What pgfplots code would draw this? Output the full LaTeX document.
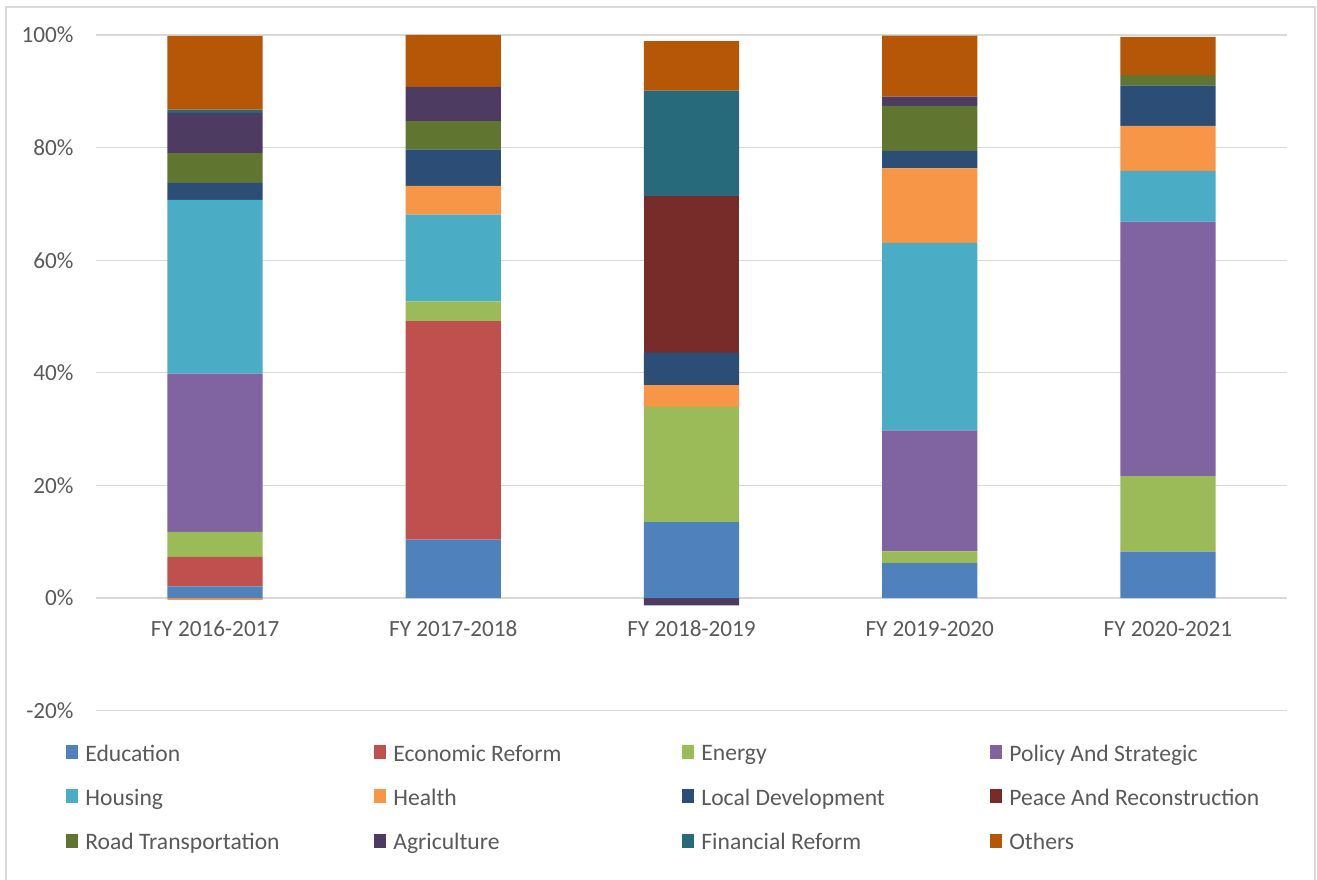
\documentclass[border=0pt]{standalone}
\usepackage{fontspec}
\setmainfont{Carlito}
\usepackage{pgfplots}
\usepackage{pgfplotstable}
\pgfplotsset{compat=1.18}
\definecolor{cEdu}{HTML}{4F81BD}
\definecolor{cEco}{HTML}{C0504D}
\definecolor{cEne}{HTML}{9BBB59}
\definecolor{cPol}{HTML}{8064A2}
\definecolor{cHou}{HTML}{4BACC6}
\definecolor{cHea}{HTML}{F79646}
\definecolor{cLD}{HTML}{2C4D75}
\definecolor{cPea}{HTML}{772C2A}
\definecolor{cRoa}{HTML}{5F7530}
\definecolor{cAgr}{HTML}{4D3B62}
\definecolor{cFin}{HTML}{276A7C}
\definecolor{cOth}{HTML}{B65708}
\definecolor{gridc}{HTML}{D9D9D9}
\definecolor{txtc}{HTML}{595959}

\pgfplotstableread{
x Edu  Eco  Ene   Pol  Hou   Hea  LD   Pea  Roa  Agr  Fin  Oth
0 2.1  5.2  4.45  28.1 30.85 -0.3 3.05 0    5.25 7.15 0.6  13.1
1 10.4 38.8 3.5   0    15.4  5.1  6.5  0    5.0  6.1  0    9.2
2 13.5 0    20.45 0    0     3.85 5.8  27.8 0    -1.3 18.7 8.8
3 6.2  0    2.1   21.5 33.3  13.2 3.1  0    8.0  1.65 0    10.85
4 8.27 0    13.4  45.2 9.0   8.0  7.2  0    1.8  0    0    6.8
}\data

\newcommand{\LE}[1]{\makebox[141pt][l]{#1}}
\newcommand{\cfont}{\fontsize{11.6}{13.9}\selectfont}
\newcommand{\lfont}{\fontsize{11.8}{14.1}\selectfont}

\begin{document}
\begin{tikzpicture}
\useasboundingbox (0,0) rectangle (658.5pt,439.5pt);
\draw[gridc, line width=0.6pt] (3pt,-1pt) -- (3pt,436pt) -- (657.5pt,436pt) -- (657.5pt,-1pt);
\begin{axis}[
  at={(48pt,84.15pt)}, anchor=south west,
  scale only axis, width=595.5pt, height=337.85pt,
  xmin=-0.5, xmax=4.5, ymin=-20, ymax=100,
  ybar stacked, stack negative=separate, bar width=0.4,
  ytick={-20,0,20,40,60,80,100},
  yticklabels={-20\%,0\%,20\%,40\%,60\%,80\%,100\%},
  xtick={0,1,2,3,4},
  xticklabels={FY 2016-2017,FY 2017-2018,FY 2018-2019,FY 2019-2020,FY 2020-2021},
  ymajorgrids, grid style={color=gridc, line width=0.6pt},
  axis line style={draw=none}, major tick length=0pt,
  tick label style={font=\cfont, text=txtc},
  yticklabel style={xshift=-7.7pt},
  xticklabel style={anchor=base, yshift=37.35pt},
  legend columns=4,
  legend style={at={(-0.0252,-0.044)}, anchor=north west, draw=none, fill=none,
    inner sep=0pt, font=\lfont, text=txtc, column sep=1.5pt, row sep=8.4pt,
    cells={anchor=west}},
  legend image code/.code={\fill[#1] (0pt,-2.3pt) rectangle (6pt,4.7pt);},
]
\addplot[fill=cEdu, draw=none] table[x=x,y=Edu]{\data}; \addlegendentry{\LE{Education}}
\addplot[fill=cEco, draw=none] table[x=x,y=Eco]{\data}; \addlegendentry{\LE{Economic Reform}}
\addplot[fill=cEne, draw=none] table[x=x,y=Ene]{\data}; \addlegendentry{\LE{Energy}}
\addplot[fill=cPol, draw=none] table[x=x,y=Pol]{\data}; \addlegendentry{\LE{Policy And Strategic}}
\addplot[fill=cHou, draw=none] table[x=x,y=Hou]{\data}; \addlegendentry{\LE{Housing}}
\addplot[fill=cHea, draw=none] table[x=x,y=Hea]{\data}; \addlegendentry{\LE{Health}}
\addplot[fill=cLD, draw=none] table[x=x,y=LD]{\data}; \addlegendentry{\LE{Local Development}}
\addplot[fill=cPea, draw=none] table[x=x,y=Pea]{\data}; \addlegendentry{\LE{Peace And Reconstruction}}
\addplot[fill=cRoa, draw=none] table[x=x,y=Roa]{\data}; \addlegendentry{\LE{Road Transportation}}
\addplot[fill=cAgr, draw=none] table[x=x,y=Agr]{\data}; \addlegendentry{\LE{Agriculture}}
\addplot[fill=cFin, draw=none] table[x=x,y=Fin]{\data}; \addlegendentry{\LE{Financial Reform}}
\addplot[fill=cOth, draw=none] table[x=x,y=Oth]{\data}; \addlegendentry{\LE{Others}}
\end{axis}
\end{tikzpicture}
\end{document}
